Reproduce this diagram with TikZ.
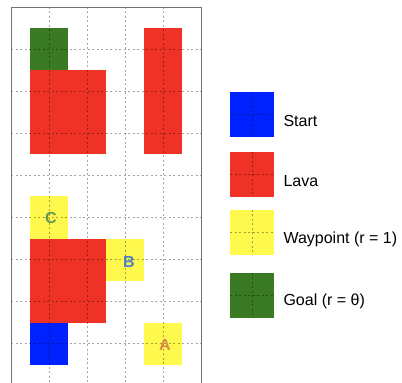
\documentclass[tikz,border=0pt]{standalone}
\usepackage{fontspec}
\setmainfont{Liberation Sans}
\usepackage{xcolor}
\definecolor{Lava_Red}{HTML}{EE3326}
\definecolor{Way_Yellow}{HTML}{FFF94D}
\definecolor{Start_Blue}{HTML}{0022FF}
\definecolor{Goal_Green}{HTML}{3A7A24}
\definecolor{Label_A}{HTML}{D88A4C}
\definecolor{Label_B}{HTML}{4A7FC6}
\definecolor{Label_C}{HTML}{619A55}
\tikzset{
    cell/.style={draw=none, minimum width=38pt, minimum height=42.1pt, inner sep=0pt},
    gridline/.style={black, opacity=0.35, line width=0.7pt, dash pattern=on 2pt off 2.5pt},
    wplabel/.style={font=\fontsize{16}{19}\selectfont\bfseries},
    legtext/.style={anchor=west, font=\fontsize{16}{19}\selectfont}
}

\begin{document}
\begin{tikzpicture}
    \useasboundingbox (0,0) rectangle (402pt,383pt);

    % Grid world (cells centred on integer points)
    \begin{scope}[shift={(11pt,376pt)}, x=38pt, y=-42.1pt]
        % Goal
        \fill[Goal_Green] (0.5,0.5) rectangle (1.5,1.5);
        % Lava blocks
        \fill[Lava_Red] (0.5,1.5) rectangle (2.5,3.5);
        \fill[Lava_Red] (3.5,0.5) rectangle (4.5,3.5);
        \fill[Lava_Red] (0.5,5.5) rectangle (2.5,7.5);
        % Waypoints
        \fill[Way_Yellow] (0.5,4.5) rectangle (1.5,5.5);
        \fill[Way_Yellow] (2.5,5.5) rectangle (3.5,6.5);
        \fill[Way_Yellow] (3.5,7.5) rectangle (4.5,8.5);
        % Start
        \fill[Start_Blue] (0.5,7.5) rectangle (1.5,8.5);

        % Dotted grid
        \foreach \u in {1,...,4}
            \draw[gridline] (\u,0) -- (\u,9);
        \foreach \v in {1,...,8}
            \draw[gridline] (0,\v) -- (5,\v);

        % Frame
        \draw[black!55, line width=0.9pt] (0,9) -- (0,0) -- (5,0) -- (5,9);

        % Waypoint labels
        \node[wplabel, text=Label_C] (wpC) at (1.05,5.02) {C};
        \node[wplabel, text=Label_B] (wpB) at (3.1,6.05) {B};
        \node[wplabel, text=Label_A] (wpA) at (4.05,8.02) {A};
    \end{scope}

    % Legend
    \foreach \col/\ytop/\txt [count=\i] in {Start_Blue/92.3/Start, Lava_Red/151.7/Lava,
            Way_Yellow/210/{Waypoint (r = 1)}, Goal_Green/272.7/{Goal (r = θ)}} {
        \fill[\col] (230pt,383pt-\ytop pt) rectangle (274pt,383pt-\ytop pt-45pt);
        \draw[gridline] (252pt,383pt-\ytop pt) -- (252pt,383pt-\ytop pt-45pt);
        \draw[gridline] (230pt,383pt-\ytop pt-22.5pt) -- (274pt,383pt-\ytop pt-22.5pt);
        \node[legtext] (leg\i) at (280pt,383pt-\ytop pt-29pt) {\txt};
    }
\end{tikzpicture}
\end{document}
